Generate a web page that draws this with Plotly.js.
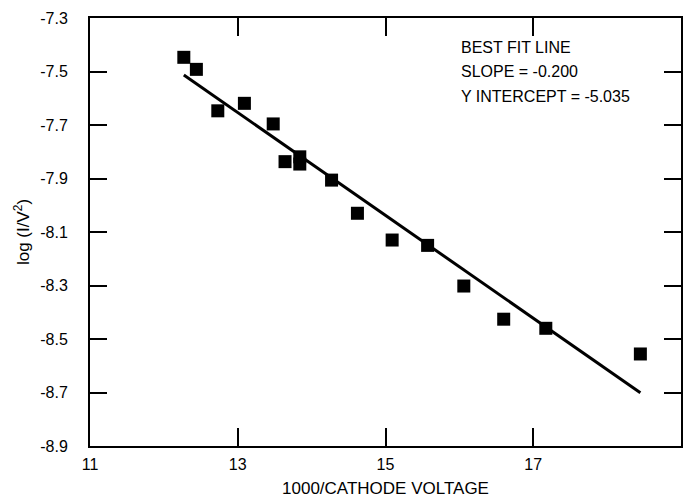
<!DOCTYPE html>
<html>
<head>
<meta charset="utf-8">
<script src="https://cdn.plot.ly/plotly-3.0.1.min.js"></script>
<style>html,body{margin:0;padding:0;background:#fff;}</style>
</head>
<body>
<div id="chart" style="width:685px;height:501px;"></div>
<script>
// Measured points
const voltX = [12.27, 12.44, 12.73, 13.09, 13.48, 13.64, 13.84, 13.84, 14.27, 14.62, 15.09, 15.57, 16.06, 16.60, 17.17, 18.45];
const logY  = [-7.447, -7.492, -7.647, -7.619, -7.696, -7.837, -7.819, -7.846, -7.906, -8.030, -8.130, -8.150, -8.302, -8.426, -8.460, -8.556];
// Best fit line endpoints
const fitX = [12.27, 18.45];
const fitY = [-7.513, -8.701];
// Tick labels
const xTickVals = [11, 13, 15, 17, 19];
const xTickText = ["11", "13", "15", "17", "19"];
const yTickVals = [-7.3, -7.5, -7.7, -7.9, -8.1, -8.3, -8.5, -8.7, -8.9];
const yTickText = ["-7.3", "-7.5", "-7.7", "-7.9", "-8.1", "-8.3", "-8.5", "-8.7", "-8.9"];
const noteLines = ["BEST FIT LINE", "SLOPE = -0.200", "Y INTERCEPT = -5.035"];

const FONT = "Liberation Sans, Arial, sans-serif";

const traces = [
  {x: fitX, y: fitY, mode: 'lines', line: {color: '#000', width: 3}, hoverinfo: 'skip', showlegend: false},
  {x: voltX, y: logY, mode: 'markers', marker: {symbol: 'square', size: 13, color: '#000'}, showlegend: false}
];

const noteY = [0.932, 0.876, 0.817];
const annotations = noteLines.map((t, i) => ({
  text: t, xref: 'paper', yref: 'paper', x: 0.624, y: noteY[i],
  xanchor: 'left', yanchor: 'middle', showarrow: false,
  font: {family: FONT, size: 16, color: '#000'}
}));

const layout = {
  width: 685, height: 501,
  margin: {l: 90, r: 4, t: 18, b: 55},
  paper_bgcolor: '#fff', plot_bgcolor: '#fff',
  font: {family: FONT, size: 16, color: '#000'},
  xaxis: {
    range: [11, 19], tickvals: xTickVals, ticktext: xTickText,
    ticks: 'inside', ticklen: 18, tickwidth: 2, tickcolor: '#000',
    showline: true, linewidth: 2, linecolor: '#000', mirror: 'ticks',
    showgrid: false, zeroline: false, ticklabelstandoff: 3,
    tickfont: {family: FONT, size: 16},
    title: {text: '1000/CATHODE VOLTAGE', font: {family: FONT, size: 17}, standoff: 10}
  },
  yaxis: {
    range: [-8.9, -7.3], tickvals: yTickVals, ticktext: yTickText,
    ticks: 'inside', ticklen: 17, tickwidth: 2, tickcolor: '#000',
    showline: true, linewidth: 2, linecolor: '#000', mirror: 'ticks',
    showgrid: false, zeroline: false, ticklabelstandoff: 17,
    tickfont: {family: FONT, size: 16},
    title: {text: 'log (I/V<sup>2</sup>)', font: {family: FONT, size: 17}, standoff: 6}
  },
  annotations: annotations
};

Plotly.newPlot('chart', traces, layout, {displayModeBar: false, staticPlot: true});
</script>
</body>
</html>
